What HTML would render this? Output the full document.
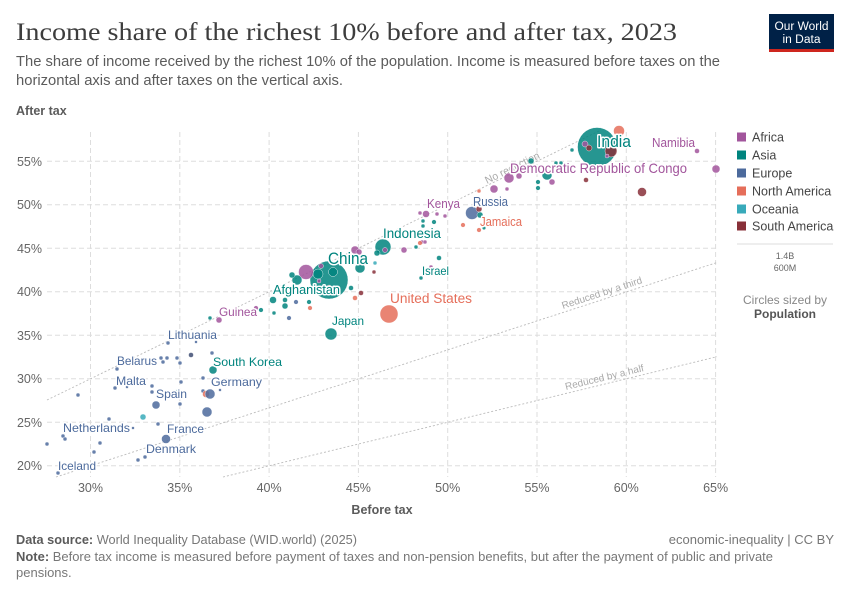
<!DOCTYPE html>
<html><head><meta charset="utf-8"><style>
html,body{margin:0;padding:0;background:#fff;}
svg{display:block;font-family:"Liberation Sans",Arial,sans-serif;}
.g{stroke:#ddd;stroke-width:1;stroke-dasharray:5,3;}
.r{stroke:#bbb;stroke-width:0.9;stroke-dasharray:2,2;fill:none;}
.yt{font-size:12.5px;fill:#666;text-anchor:end;}
.xt{font-size:12.5px;fill:#666;text-anchor:middle;}
.lb{paint-order:stroke;stroke:#fff;stroke-width:3px;stroke-linejoin:round;}
.af{fill:#a2559c}.as{fill:#00847e}.eu{fill:#4c6a9c}.na{fill:#e56e5a}.oc{fill:#38aaba}.sa{fill:#883039}
circle{stroke:#fff;stroke-width:0.4;fill-opacity:0.85}
</style></head><body>
<svg width="850" height="600" viewBox="0 0 850 600" xmlns="http://www.w3.org/2000/svg">
<rect width="850" height="600" fill="#fff"/>
<!-- Title -->
<text x="16" y="40" font-family="'Liberation Serif',serif" font-size="25" fill="#3d3d3d" textLength="661" lengthAdjust="spacingAndGlyphs">Income share of the richest 10% before and after tax, 2023</text>
<text x="16" y="66" font-size="14.5" fill="#5b5b5b" textLength="704" lengthAdjust="spacingAndGlyphs">The share of income received by the richest 10% of the population. Income is measured before taxes on the</text>
<text x="16" y="85" font-size="14.5" fill="#5b5b5b" textLength="327" lengthAdjust="spacingAndGlyphs">horizontal axis and after taxes on the vertical axis.</text>
<!-- Logo -->
<rect x="769" y="14" width="65" height="38" fill="#002147"/>
<rect x="769" y="49" width="65" height="3" fill="#ce261e"/>
<text x="801.5" y="30" font-size="11.5" fill="#fff" text-anchor="middle" textLength="54" lengthAdjust="spacingAndGlyphs">Our World</text>
<text x="801.5" y="43" font-size="11.5" fill="#fff" text-anchor="middle" textLength="38" lengthAdjust="spacingAndGlyphs">in Data</text>
<text x="16" y="115" font-size="12.5" font-weight="bold" fill="#5b5b5b">After tax</text>

<!-- Grid -->
<g class="g">
<line x1="90.5" y1="132" x2="90.5" y2="477"/><line x1="179.8" y1="132" x2="179.8" y2="477"/>
<line x1="269.1" y1="132" x2="269.1" y2="477"/><line x1="358.4" y1="132" x2="358.4" y2="477"/>
<line x1="447.7" y1="132" x2="447.7" y2="477"/><line x1="537" y1="132" x2="537" y2="477"/>
<line x1="626.3" y1="132" x2="626.3" y2="477"/><line x1="715.6" y1="132" x2="715.6" y2="477"/>
<line x1="47" y1="161.3" x2="718" y2="161.3"/><line x1="47" y1="204.8" x2="718" y2="204.8"/>
<line x1="47" y1="248.3" x2="718" y2="248.3"/><line x1="47" y1="291.8" x2="718" y2="291.8"/>
<line x1="47" y1="335.3" x2="718" y2="335.3"/><line x1="47" y1="378.8" x2="718" y2="378.8"/>
<line x1="47" y1="422.3" x2="718" y2="422.3"/><line x1="47" y1="465.8" x2="718" y2="465.8"/>
</g>
<text class="yt" x="42" y="166">55%</text><text class="yt" x="42" y="209">50%</text>
<text class="yt" x="42" y="253">45%</text><text class="yt" x="42" y="296">40%</text>
<text class="yt" x="42" y="340">35%</text><text class="yt" x="42" y="383">30%</text>
<text class="yt" x="42" y="427">25%</text><text class="yt" x="42" y="470">20%</text>
<text class="xt" x="90.5" y="492">30%</text><text class="xt" x="179.8" y="492">35%</text>
<text class="xt" x="269.1" y="492">40%</text><text class="xt" x="358.4" y="492">45%</text>
<text class="xt" x="447.7" y="492">50%</text><text class="xt" x="537" y="492">55%</text>
<text class="xt" x="626.3" y="492">60%</text><text class="xt" x="715.6" y="492">65%</text>
<text x="382" y="514" font-size="12.5" font-weight="bold" fill="#5b5b5b" text-anchor="middle">Before tax</text>

<!-- Reference lines -->
<line class="r" x1="47" y1="400" x2="601" y2="130"/>
<line class="r" x1="56" y1="477" x2="717" y2="262.5"/>
<line class="r" x1="223" y1="477" x2="717" y2="356.7"/>
<text x="487" y="184" font-size="10.5" fill="#aaa" transform="rotate(-26 487 184)">No reduction</text>
<text x="563" y="309" font-size="10" fill="#aaa" transform="rotate(-18 563 309)">Reduced by a third</text>
<text x="566" y="390" font-size="10" fill="#aaa" transform="rotate(-13.7 566 390)">Reduced by a half</text>

<!-- Big circles -->
<circle class="as" cx="597" cy="147" r="19.5"/>
<circle class="as" cx="329" cy="280" r="19"/>
<circle class="na" cx="619" cy="131" r="5.5"/>
<circle class="sa" cx="611" cy="151" r="6"/>
<circle class="af" cx="585" cy="144" r="3"/>
<circle class="sa" cx="589" cy="148" r="3"/>
<circle class="af" cx="607" cy="156" r="2"/>
<circle class="as" cx="572" cy="150" r="2"/>
<circle class="af" cx="697" cy="151" r="2.5"/>
<circle class="af" cx="716" cy="169" r="4"/>
<circle class="sa" cx="642" cy="192" r="4.5"/>
<circle class="sa" cx="586" cy="180" r="2.5"/>
<circle class="af" cx="552" cy="182" r="3"/>
<circle class="as" cx="547" cy="175" r="5"/>
<circle class="as" cx="531" cy="161" r="3"/>
<circle class="as" cx="556" cy="163" r="2"/>
<circle class="as" cx="561" cy="163" r="2"/>
<circle class="as" cx="538" cy="182" r="2.3"/>
<circle class="as" cx="538" cy="188" r="2.3"/>
<circle class="af" cx="509" cy="178" r="5"/>
<circle class="af" cx="519" cy="176" r="3"/>
<circle class="af" cx="494" cy="189" r="4"/>
<circle class="af" cx="507" cy="189" r="2"/>
<circle class="na" cx="479" cy="191" r="2"/>
<circle class="eu" cx="472" cy="213" r="6.5"/>
<circle class="sa" cx="479" cy="209" r="3"/>
<circle class="as" cx="480" cy="215" r="3"/>
<circle class="na" cx="463" cy="225" r="2.3"/>
<circle class="na" cx="479" cy="230" r="2.3"/>
<circle class="as" cx="484" cy="228" r="1.8"/>
<circle class="af" cx="426" cy="214" r="3.5"/>
<circle class="af" cx="420" cy="213" r="2"/>
<circle class="af" cx="437" cy="214" r="2"/>
<circle class="af" cx="445" cy="216" r="2"/>
<circle class="as" cx="423" cy="221" r="2"/>
<circle class="as" cx="434" cy="222" r="2.3"/>
<circle class="as" cx="423" cy="226" r="2"/>
<circle class="as" cx="383" cy="247" r="8"/>
<circle class="af" cx="385" cy="250" r="2.5"/>
<circle class="af" cx="404" cy="250" r="3"/>
<circle class="af" cx="422" cy="242" r="2"/>
<circle class="af" cx="425" cy="242" r="2"/>
<circle class="as" cx="416" cy="247" r="2"/>
<circle class="na" cx="420" cy="243" r="2.3"/>
<circle class="as" cx="439" cy="258" r="2.5"/>
<circle class="af" cx="431" cy="267" r="2"/>
<circle class="as" cx="421" cy="278" r="2"/>
<circle class="af" cx="355" cy="250" r="4"/>
<circle class="af" cx="359" cy="252" r="3"/>
<circle class="as" cx="377" cy="253" r="3"/>
<circle class="as" cx="360" cy="268" r="5"/>
<circle class="oc" cx="375" cy="263" r="2"/>
<circle class="sa" cx="374" cy="272" r="2"/>
<circle class="as" cx="351" cy="288" r="2.5"/>
<circle class="sa" cx="361" cy="293" r="2.5"/>
<circle class="na" cx="355" cy="298" r="2.5"/>
<circle class="af" cx="306" cy="272" r="7.5"/>
<circle class="as" cx="297" cy="280" r="5"/>
<circle class="as" cx="292" cy="275" r="3"/>
<circle class="as" cx="318" cy="274" r="5"/>
<circle class="as" cx="333" cy="272" r="4.5"/>
<circle class="af" cx="321" cy="266" r="2.5"/>
<circle class="af" cx="319" cy="281" r="2"/>
<circle class="sa" cx="329" cy="287" r="2"/>
<circle class="as" cx="273" cy="300" r="3.5"/>
<circle class="as" cx="285" cy="300" r="2.5"/>
<circle class="as" cx="285" cy="306" r="3"/>
<circle class="eu" cx="296" cy="302" r="2.3"/>
<circle class="as" cx="309" cy="302" r="2.3"/>
<circle class="na" cx="310" cy="308" r="2.3"/>
<circle class="as" cx="274" cy="313" r="2"/>
<circle class="eu" cx="289" cy="318" r="2.3"/>
<circle class="as" cx="261" cy="310" r="2.3"/>
<circle class="af" cx="256" cy="308" r="2.3"/>
<circle class="af" cx="219" cy="320" r="3"/>
<circle class="as" cx="210" cy="318" r="2"/>
<circle class="as" cx="331" cy="334" r="6"/>
<circle class="na" cx="389" cy="314" r="9"/>
<!-- lower left -->
<circle class="eu" cx="168" cy="343" r="2"/>
<circle cx="191" cy="355" r="2.5" fill="#3f4d73"/>
<circle class="eu" cx="212" cy="353" r="2"/>
<circle class="eu" cx="196" cy="342" r="1.5"/>
<circle class="eu" cx="161" cy="358" r="2"/>
<circle class="eu" cx="167" cy="358" r="2"/>
<circle class="eu" cx="177" cy="358" r="2"/>
<circle class="eu" cx="180" cy="363" r="2"/>
<circle class="eu" cx="163" cy="362" r="2"/>
<circle class="eu" cx="117" cy="369" r="2"/>
<circle class="as" cx="213" cy="370" r="4"/>
<circle class="eu" cx="203" cy="378" r="2"/>
<circle class="eu" cx="181" cy="382" r="2"/>
<circle class="eu" cx="152" cy="386" r="2"/>
<circle class="eu" cx="152" cy="392" r="2"/>
<circle class="eu" cx="115" cy="388" r="2"/>
<circle class="eu" cx="127" cy="387" r="1.5"/>
<circle class="eu" cx="78" cy="395" r="2"/>
<circle class="oc" cx="177" cy="391" r="1.5"/>
<circle class="eu" cx="203" cy="391" r="2"/>
<circle class="na" cx="206" cy="394" r="3.5"/>
<circle class="eu" cx="210" cy="394" r="5"/>
<circle class="eu" cx="220" cy="390" r="1.5"/>
<circle class="eu" cx="156" cy="405" r="4"/>
<circle class="eu" cx="180" cy="404" r="2"/>
<circle class="eu" cx="207" cy="412" r="5"/>
<circle class="oc" cx="143" cy="417" r="3"/>
<circle class="eu" cx="109" cy="419" r="2"/>
<circle class="eu" cx="158" cy="424" r="2"/>
<circle class="eu" cx="133" cy="428" r="1.5"/>
<circle class="eu" cx="63" cy="436" r="2"/>
<circle class="eu" cx="65" cy="439" r="2"/>
<circle class="eu" cx="166" cy="439" r="4.5"/>
<circle class="eu" cx="47" cy="444" r="2"/>
<circle class="eu" cx="100" cy="443" r="2"/>
<circle class="eu" cx="94" cy="452" r="2"/>
<circle class="eu" cx="145" cy="457" r="2"/>
<circle class="eu" cx="138" cy="460" r="2"/>
<circle class="eu" cx="58" cy="473" r="2"/>

<!-- Labels -->
<g class="lb">
<text x="597" y="147" font-size="17" fill="#00847e" textLength="34" lengthAdjust="spacingAndGlyphs">India</text>
<text x="652" y="147" font-size="12.5" fill="#a2559c" textLength="43" lengthAdjust="spacingAndGlyphs">Namibia</text>
<text x="510" y="173" font-size="14" fill="#a2559c" textLength="177" lengthAdjust="spacingAndGlyphs">Democratic Republic of Congo</text>
<text x="473" y="206" font-size="13" fill="#4c6a9c" textLength="35" lengthAdjust="spacingAndGlyphs">Russia</text>
<text x="480" y="226" font-size="12.5" fill="#e56e5a" textLength="42" lengthAdjust="spacingAndGlyphs">Jamaica</text>
<text x="427" y="208" font-size="12.5" fill="#a2559c" textLength="33" lengthAdjust="spacingAndGlyphs">Kenya</text>
<text x="383" y="238" font-size="13.5" fill="#00847e" textLength="58" lengthAdjust="spacingAndGlyphs">Indonesia</text>
<text x="422" y="275" font-size="12" fill="#00847e" textLength="27" lengthAdjust="spacingAndGlyphs">Israel</text>
<text x="328" y="264" font-size="17" fill="#00847e" textLength="40" lengthAdjust="spacingAndGlyphs">China</text>
<text x="273" y="294" font-size="13" fill="#00847e" textLength="67" lengthAdjust="spacingAndGlyphs">Afghanistan</text>
<text x="390" y="303" font-size="13.5" fill="#e56e5a" textLength="82" lengthAdjust="spacingAndGlyphs">United States</text>
<text x="219" y="316" font-size="12" fill="#a2559c" textLength="38" lengthAdjust="spacingAndGlyphs">Guinea</text>
<text x="332" y="325" font-size="12" fill="#00847e" textLength="32" lengthAdjust="spacingAndGlyphs">Japan</text>
<text x="168" y="339" font-size="12" fill="#4c6a9c" textLength="49" lengthAdjust="spacingAndGlyphs">Lithuania</text>
<text x="117" y="365" font-size="12" fill="#4c6a9c" textLength="40" lengthAdjust="spacingAndGlyphs">Belarus</text>
<text x="213" y="366" font-size="12" fill="#00847e" textLength="69" lengthAdjust="spacingAndGlyphs">South Korea</text>
<text x="116" y="385" font-size="12" fill="#4c6a9c" textLength="30" lengthAdjust="spacingAndGlyphs">Malta</text>
<text x="211" y="386" font-size="12" fill="#4c6a9c" textLength="51" lengthAdjust="spacingAndGlyphs">Germany</text>
<text x="156" y="398" font-size="12" fill="#4c6a9c" textLength="31" lengthAdjust="spacingAndGlyphs">Spain</text>
<text x="63" y="432" font-size="12" fill="#4c6a9c" textLength="67" lengthAdjust="spacingAndGlyphs">Netherlands</text>
<text x="167" y="433" font-size="12" fill="#4c6a9c" textLength="37" lengthAdjust="spacingAndGlyphs">France</text>
<text x="146" y="453" font-size="12" fill="#4c6a9c" textLength="50" lengthAdjust="spacingAndGlyphs">Denmark</text>
<text x="58" y="470" font-size="12" fill="#4c6a9c" textLength="38" lengthAdjust="spacingAndGlyphs">Iceland</text>
</g>

<!-- Legend -->
<g font-size="12.5" fill="#444">
<rect x="737" y="132.5" width="9" height="9" fill="#a2559c"/><text x="752" y="141.5">Africa</text>
<rect x="737" y="150.5" width="9" height="9" fill="#00847e"/><text x="752" y="159.5">Asia</text>
<rect x="737" y="168.5" width="9" height="9" fill="#4c6a9c"/><text x="752" y="177.5">Europe</text>
<rect x="737" y="186.5" width="9" height="9" fill="#e56e5a"/><text x="752" y="195.5">North America</text>
<rect x="737" y="204.5" width="9" height="9" fill="#38aaba"/><text x="752" y="213.5">Oceania</text>
<rect x="737" y="221.5" width="9" height="9" fill="#883039"/><text x="752" y="230.5">South America</text>
</g>
<line x1="737" y1="244" x2="833" y2="244" stroke="#ddd" stroke-width="1"/>
<circle cx="785" cy="269" r="18" fill="none" stroke="#bbb" stroke-width="1" style="fill-opacity:1"/>
<circle cx="785" cy="275" r="12" fill="none" stroke="#bbb" stroke-width="1" style="fill-opacity:1"/>
<text x="785" y="259" font-size="9" fill="#666" text-anchor="middle" class="lb" style="stroke-width:2px">1.4B</text>
<text x="785" y="271" font-size="9" fill="#666" text-anchor="middle" class="lb" style="stroke-width:2px">600M</text>
<text x="785" y="304" font-size="12" fill="#888" text-anchor="middle">Circles sized by</text>
<text x="785" y="318" font-size="12" font-weight="bold" fill="#555" text-anchor="middle">Population</text>

<!-- Footer -->
<text x="16" y="544" font-size="13" fill="#777" textLength="341" lengthAdjust="spacingAndGlyphs"><tspan font-weight="bold" fill="#5b5b5b">Data source:</tspan> World Inequality Database (WID.world) (2025)</text>
<text x="834" y="544" font-size="13" fill="#777" text-anchor="end">economic-inequality | CC BY</text>
<text x="16" y="561" font-size="13" fill="#777" textLength="757" lengthAdjust="spacingAndGlyphs"><tspan font-weight="bold" fill="#5b5b5b">Note:</tspan> Before tax income is measured before payment of taxes and non-pension benefits, but after the payment of public and private</text>
<text x="16" y="577" font-size="13" fill="#777">pensions.</text>
</svg>
</body></html>
